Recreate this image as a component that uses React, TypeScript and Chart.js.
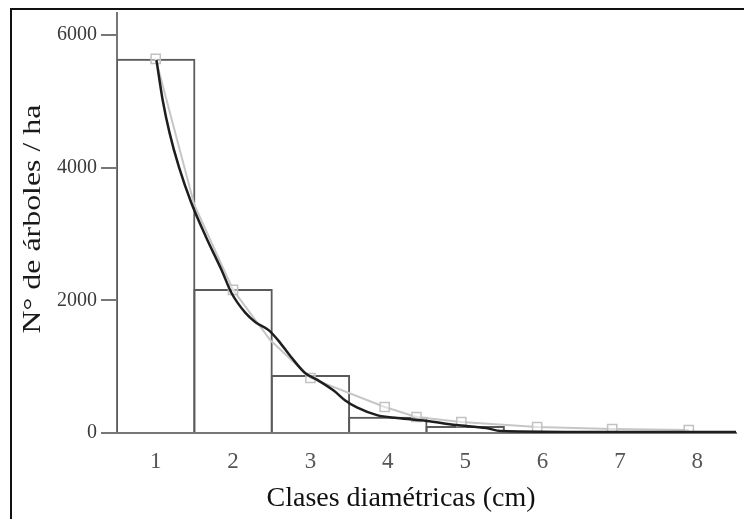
import React, { useEffect, useRef } from "react";
import { Chart, registerables } from "chart.js";

Chart.register(...registerables);

const categories = [1, 2, 3, 4, 5, 6, 7, 8];
const barValues = [5640, 2170, 875, 246, 105, 20, 12, 10];

const greyX = [1.0, 1.5, 2.0, 2.48, 3.0, 3.96, 4.37, 4.95, 5.93, 6.9, 7.89];
const greyY = [5638, 3437, 2156, 1402, 829, 392, 241, 166, 90, 60, 45];
const greyMarker = [1, 0, 1, 0, 1, 1, 1, 1, 1, 1, 1];

const curveX = [1.01, 1.09, 1.18, 1.3, 1.46, 1.65, 1.85, 1.98, 2.16, 2.29, 2.46, 2.58, 2.75, 2.93, 3.09, 3.3, 3.45, 3.6, 3.86, 4.12, 4.5, 4.88, 5.27, 5.46, 6.67, 8.5];
const curveY = [5620, 5020, 4520, 4010, 3470, 2955, 2460, 2110, 1810, 1670, 1550, 1400, 1145, 905, 800, 640, 490, 385, 270, 226, 181, 121, 75, 30, 15, 15];

const yTicks = [0, 2000, 4000, 6000];
const yTitle = "N° de árboles / ha";
const xTitle = "Clases diamétricas (cm)";

const SERIF = '"Liberation Serif", "Times New Roman", "DejaVu Serif", serif';

export default function App() {
  const ref = useRef<HTMLCanvasElement | null>(null);

  useEffect(() => {
    if (!ref.current) return;
    const framePlugin = {
      id: "frame",
      afterDraw(chart: any) {
        const ctx = chart.ctx;
        ctx.save();
        ctx.fillStyle = "#111";
        ctx.fillRect(10, 8, 734, 2);
        ctx.fillRect(10, 8, 2, 511);
        ctx.fillStyle = "#111";
        ctx.textAlign = "center";
        ctx.textBaseline = "middle";
        ctx.font = `28px ${SERIF}`;
        ctx.fillText(xTitle, 401, 499);
        ctx.translate(33, 219);
        ctx.rotate(-Math.PI / 2);
        ctx.scale(1.1, 0.88);
        ctx.fillStyle = "#1a1a1a";
        ctx.font = `29px ${SERIF}`;
        ctx.fillText(yTitle, 0, 0);
        ctx.restore();
      },
    };

    const chart = new Chart(ref.current, {
      type: "bar",
      data: {
        datasets: [
          {
            type: "line",
            label: "curve",
            data: curveX.map((x, i) => ({ x, y: curveY[i] })),
            borderColor: "#1e1e1e",
            borderWidth: 2.5,
            pointRadius: 0,
            tension: 0.4,
            cubicInterpolationMode: "monotone",
            order: 1,
          } as any,
          {
            type: "line",
            label: "observed",
            data: greyX.map((x, i) => ({ x, y: greyY[i] })),
            borderColor: "#c6c6c6",
            borderWidth: 2,
            pointStyle: "rect",
            pointRadius: greyMarker.map((m) => (m ? 6.5 : 0)),
            pointBackgroundColor: "rgba(255,255,255,0.45)",
            pointBorderColor: "#c2c2c2",
            pointBorderWidth: 1.5,
            tension: 0,
            order: 2,
          } as any,
          {
            type: "bar",
            label: "bars",
            data: categories.map((c, i) => ({ x: c, y: barValues[i] })),
            backgroundColor: "rgba(255,255,255,0)",
            borderColor: "#5a5a5a",
            borderWidth: 2,
            barPercentage: 1.026,
            categoryPercentage: 1,
            grouped: false,
            order: 3,
          } as any,
        ],
      },
      options: {
        animation: false,
        responsive: false,
        devicePixelRatio: 1,
        layout: { padding: { left: 0, top: 13, right: 1, bottom: 0 } },
        plugins: { legend: { display: false }, tooltip: { enabled: false } },
        scales: {
          x: {
            type: "linear",
            min: 0.5,
            max: 8.5,
            offset: false,
            afterBuildTicks(scale: any) {
              scale.ticks = categories.map((v) => ({ value: v }));
            },
            grid: { display: false, drawTicks: false },
            border: { display: true, color: "#777", width: 2 },
            ticks: {
              color: "#555",
              font: { family: SERIF, size: 23 },
              padding: 15,
              callback: (v: any) => String(v),
            },
            afterFit(scale: any) {
              scale.height = 86;
              scale.paddingLeft = 0;
              scale.paddingRight = 0;
            },
          },
          y: {
            type: "linear",
            min: 0,
            max: 6330,
            afterBuildTicks(scale: any) {
              scale.ticks = yTicks.map((v) => ({ value: v }));
            },
            grid: {
              drawOnChartArea: false,
              drawTicks: true,
              tickLength: 16,
              color: "#777",
              lineWidth: 2,
            },
            border: { display: true, color: "#777", width: 2 },
            ticks: {
              color: "#3a3a3a",
              font: { family: SERIF, size: 20 },
              padding: 4,
              callback: (v: any) => String(v),
            },
            afterFit(scale: any) {
              scale.width = 117;
              scale.paddingTop = 0;
              scale.paddingBottom = 0;
            },
          },
        },
      },
      plugins: [framePlugin],
    });
    return () => chart.destroy();
  }, []);

  return (
    <div style={{ position: "absolute", left: 0, top: 0, width: 744, height: 519, background: "#fff" }}>
      <canvas ref={ref} width={744} height={519} style={{ width: 744, height: 519, display: "block" }} />
    </div>
  );
}
